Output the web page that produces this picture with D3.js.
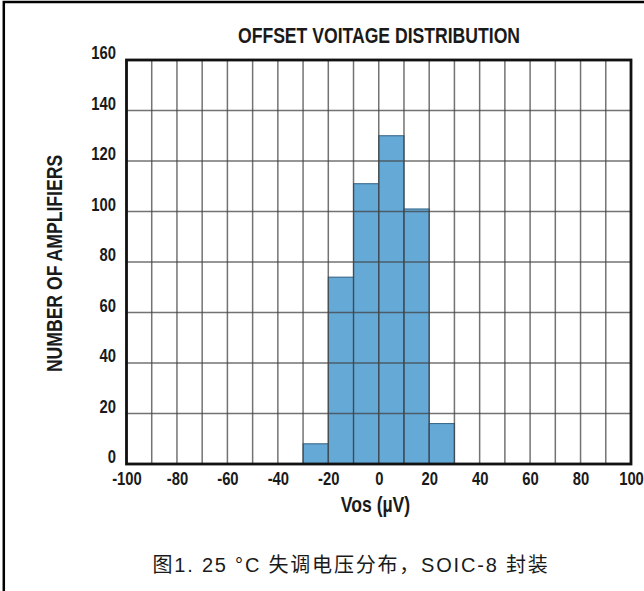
<!DOCTYPE html>
<html><head><meta charset="utf-8">
<script src="https://cdn.jsdelivr.net/npm/d3@7"></script>
<style>
html,body{margin:0;padding:0;background:#fff;}
svg{display:block;}
.cond{font-family:"Liberation Sans",Arial,sans-serif;font-weight:bold;}
</style></head>
<body>
<script>
const binStarts = [-30, -20, -10, 0, 10, 20];
const binWidth = 10;
const counts = [8, 74, 111, 130, 101, 16];
const xTicks = [-100, -80, -60, -40, -20, 0, 20, 40, 60, 80, 100];
const yTicks = [0, 20, 40, 60, 80, 100, 120, 140, 160];
const xGrid = d3.range(-100, 101, 10);
const title = "OFFSET VOITAGE DISTRIBUTION";
const xLabel = "Vos (µV)";
const yLabel = "NUMBER OF AMPLIFIERS";
const caption = "图1. 25 °C 失调电压分布，SOIC-8 封装";

const W = 644, H = 591, K = 0.8;
const svg = d3.select("body").append("svg").attr("width", W).attr("height", H);

svg.append("path").attr("d", `M3.8,${H} L3.8,2 L${W},2`).attr("fill","none").attr("stroke","#000").attr("stroke-width",2.5);

const x = d3.scaleLinear().domain([-100, 100]).range([126.5, 631]);
const y = d3.scaleLinear().domain([0, 160]).range([464, 60]);

const g = svg.append("g");
g.selectAll("rect.bar").data(counts).join("rect")
  .attr("class","bar")
  .attr("x",(d,i)=>x(binStarts[i]))
  .attr("width",(d,i)=>x(binStarts[i]+binWidth)-x(binStarts[i]))
  .attr("y",d=>y(d))
  .attr("height",d=>y(0)-y(d))
  .attr("fill","#65a9d7")
  .attr("stroke","#2f5f80").attr("stroke-width",1);

g.selectAll("line.vg").data(xGrid).join("line")
  .attr("x1",d=>x(d)).attr("x2",d=>x(d)).attr("y1",y(160)).attr("y2",y(0))
  .attr("stroke","#444").attr("stroke-opacity",0.75).attr("stroke-width",1.5);
g.selectAll("line.hg").data(yTicks).join("line")
  .attr("y1",d=>y(d)).attr("y2",d=>y(d)).attr("x1",x(-100)).attr("x2",x(100))
  .attr("stroke","#444").attr("stroke-opacity",0.75).attr("stroke-width",1.5);

g.append("rect").attr("x",x(-100)).attr("y",y(160)).attr("width",x(100)-x(-100)).attr("height",y(0)-y(160))
  .attr("fill","none").attr("stroke","#111").attr("stroke-width",2.8);

const fmt = d => String(d);
const xAxis = d3.axisBottom(x).tickValues(xTicks).tickSize(0).tickFormat(fmt);
const ax = svg.append("g").attr("transform",`translate(0,${y(0)})`).call(xAxis);
ax.select(".domain").remove();
ax.selectAll("text").attr("class","cond").attr("font-size",18.5).attr("fill","#1a1a1a")
  .attr("font-family",null).attr("y",21).attr("dy",0).attr("x",0).attr("transform",`scale(${K},1)`);

const yAxis = d3.axisLeft(y).tickValues(yTicks).tickSize(0).tickFormat(fmt);
const ay = svg.append("g").attr("transform",`translate(${x(-100)},0)`).call(yAxis);
ay.select(".domain").remove();
ay.selectAll("text").attr("class","cond").attr("font-size",18.5).attr("fill","#1a1a1a")
  .attr("font-family",null).attr("x",-10.5/K).attr("y",-1.5).attr("dy",0).attr("transform",`scale(${K},1)`);

function condText(tx, ty, rot, size, str){
  return svg.append("text").attr("class","cond")
    .attr("transform",`translate(${tx},${ty}) rotate(${rot}) scale(${K},1)`)
    .attr("text-anchor","middle").attr("font-size",size).attr("fill","#1a1a1a").text(str);
}
condText(379, 43, 0, 22, title);
condText(375.5, 511.5, 0, 22, xLabel);
condText(62, 263.5, -90, 22, yLabel);

svg.append("text").attr("x",351).attr("y",572).attr("text-anchor","middle")
  .attr("font-family","'Liberation Sans','Noto Sans CJK SC',sans-serif").attr("font-size",20).attr("fill","#1a1a1a")
  .attr("letter-spacing",1.8)
  .text(caption);
</script>
</body></html>
